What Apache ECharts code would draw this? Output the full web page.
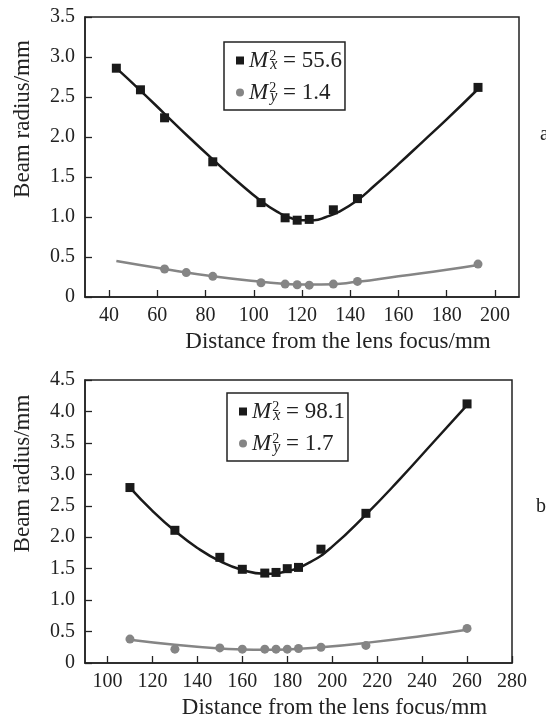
<!DOCTYPE html>
<html>
<head>
<meta charset="utf-8">
<script src="https://cdn.jsdelivr.net/npm/echarts@6/dist/echarts.min.js"></script>
<style>html,body{margin:0;padding:0;background:#fff;}#c{width:546px;height:722px;}</style>
</head>
<body>
<div id="c"></div>
<script>
// ---------- Panel a ----------
const aMxX = [43, 53, 63, 83, 103, 113, 118, 123, 133, 143, 193];
const aMxY = [2.86, 2.59, 2.24, 1.69, 1.18, 0.99, 0.96, 0.97, 1.09, 1.23, 2.62];
const aMyX = [63, 72, 83, 103, 113, 118, 123, 133, 143, 193];
const aMyY = [0.35, 0.305, 0.258, 0.178, 0.161, 0.153, 0.148, 0.161, 0.195, 0.411];
const aFitXx = [43, 53, 63, 73, 83, 93, 103, 110, 115, 120, 125, 130, 135, 143, 150, 160, 170, 180, 193];
const aFitXy = [2.86, 2.58, 2.29, 2.00, 1.72, 1.45, 1.20, 1.06, 0.99, 0.96, 0.96, 1.00, 1.06, 1.21, 1.39, 1.66, 1.94, 2.22, 2.60];
const aFitYx = [43, 63, 83, 103, 113, 120, 128, 143, 160, 180, 193];
const aFitYy = [0.45, 0.35, 0.26, 0.19, 0.165, 0.155, 0.155, 0.19, 0.26, 0.34, 0.40];
const aXTicks = [40, 60, 80, 100, 120, 140, 160, 180, 200];
// ---------- Panel b ----------
const bMxX = [110, 130, 150, 160, 170, 175, 180, 185, 195, 215, 260];
const bMxY = [2.79, 2.11, 1.68, 1.49, 1.43, 1.44, 1.50, 1.52, 1.81, 2.38, 4.12];
const bMyX = [110, 130, 150, 160, 170, 175, 180, 185, 195, 215, 260];
const bMyY = [0.38, 0.22, 0.24, 0.22, 0.22, 0.22, 0.22, 0.23, 0.25, 0.28, 0.55];
const bFitXx = [110, 120, 130, 140, 150, 160, 170, 180, 190, 200, 215, 230, 245, 260];
const bFitXy = [2.79, 2.42, 2.10, 1.83, 1.62, 1.48, 1.42, 1.46, 1.60, 1.85, 2.36, 2.92, 3.51, 4.10];
const bFitYx = [110, 130, 150, 160, 170, 180, 195, 215, 240, 260];
const bFitYy = [0.37, 0.29, 0.23, 0.215, 0.21, 0.215, 0.25, 0.32, 0.43, 0.53];
const bXTicks = [100, 120, 140, 160, 180, 200, 220, 240, 260, 280];
// legend texts
const legA = ['55.6', '1.4'];
const legB = ['98.1', '1.7'];
const panelLetters = ['a', 'b'];

const pair = (xs, ys) => xs.map((x, i) => [x, ys[i]]);
const FONT = '"Liberation Serif", "DejaVu Serif", serif';
const BLACK = '#1a1a1a';
const GRAY = '#858585';

function xAxis(gi, min, max, ticks) {
  return {
    type: 'value', gridIndex: gi, min: min, max: max,
    name: 'Distance from the lens focus/mm', nameLocation: 'middle', nameGap: 33,
    nameTextStyle: { fontFamily: FONT, fontSize: 23, color: '#222', padding: [0, 0, 0, 72] },
    axisLine: { show: true, onZero: false, lineStyle: { color: '#222', width: 1.5 } },
    axisTick: { show: true, inside: true, length: 7, customValues: ticks, lineStyle: { color: '#222', width: 1.3 } },
    axisLabel: { customValues: ticks, fontFamily: FONT, fontSize: 20, color: '#222', margin: 9 },
    splitLine: { show: false }
  };
}
function yAxis(gi, max, padL) {
  return {
    type: 'value', gridIndex: gi, min: 0, max: max, interval: 0.5,
    name: 'Beam radius/mm', nameLocation: 'middle', nameGap: 51, nameRotate: 90,
    nameTextStyle: { fontFamily: FONT, fontSize: 23, color: '#222', padding: [0, 0, 0, padL] },
    axisLine: { show: true, lineStyle: { color: '#222', width: 1.5 } },
    axisTick: { show: true, inside: true, length: 7, lineStyle: { color: '#222', width: 1.3 } },
    axisLabel: { fontFamily: FONT, fontSize: 20, color: '#222', margin: 10,
      formatter: v => (v === 0 ? '0' : v.toFixed(1)), showMaxLabel: true },
    splitLine: { show: false }
  };
}
const rich = {
  M: { fontFamily: FONT, fontSize: 23, fontStyle: 'italic', color: '#222', lineHeight: 25 },
  sup: { fontFamily: FONT, fontSize: 14, color: '#222', verticalAlign: 'top', lineHeight: 14, width: 0, padding: [1, 0, 0, 1] },
  sub: { fontFamily: FONT, fontSize: 16, fontStyle: 'italic', color: '#222', verticalAlign: 'bottom', lineHeight: 14, padding: [0, 0, 0, 1] },
  r: { fontFamily: FONT, fontSize: 23, color: '#222', lineHeight: 25 }
};
function legend(gi, left, top, vals) {
  const names = ['Mx' + gi, 'My' + gi];
  return {
    orient: 'vertical', left: left, top: top, itemWidth: 8, itemHeight: 8, itemGap: 7,
    padding: [6, 3, 5, 12], borderColor: '#222', borderWidth: 1.5, backgroundColor: '#fff',
    selectedMode: false,
    data: [{ name: names[0], icon: 'rect' }, { name: names[1], icon: 'circle' }],
    formatter: n => n.startsWith('Mx') ? '{M|M}{sup|2}{sub|x}{r| = ' + vals[0] + '}' : '{M|M}{sup|2}{sub|y}{r| = ' + vals[1] + '}',
    textStyle: { rich: rich }
  };
}
function pts(name, gi, xs, ys, sym, size, color) {
  return { name: name, type: 'scatter', xAxisIndex: gi, yAxisIndex: gi, data: pair(xs, ys),
    symbol: sym, symbolSize: size, itemStyle: { color: color, opacity: 1 }, z: 5, silent: true };
}
function fit(gi, xs, ys, color, w) {
  return { name: 'fit', type: 'line', xAxisIndex: gi, yAxisIndex: gi, data: pair(xs, ys),
    smooth: 0.5, showSymbol: false, lineStyle: { color: color, width: w }, z: 3, silent: true };
}

const chart = echarts.init(document.getElementById('c'), null, { renderer: 'canvas' });
chart.setOption({
  animation: false,
  backgroundColor: '#fff',
  grid: [
    { left: 85, top: 17, width: 434, height: 280, show: true, borderColor: '#222', borderWidth: 1.5, backgroundColor: 'transparent' },
    { left: 85, top: 380, width: 427, height: 283, show: true, borderColor: '#222', borderWidth: 1.5, backgroundColor: 'transparent' }
  ],
  xAxis: [xAxis(0, 30, 210, aXTicks), xAxis(1, 90, 280, bXTicks)],
  yAxis: [yAxis(0, 3.5, 76), yAxis(1, 4.5, 96)],
  legend: [legend(0, 224, 42, legA), legend(1, 227, 393, legB)],
  series: [
    fit(0, aFitXx, aFitXy, BLACK, 2.5),
    fit(0, aFitYx, aFitYy, GRAY, 2.5),
    pts('Mx0', 0, aMxX, aMxY, 'rect', 9, BLACK),
    pts('My0', 0, aMyX, aMyY, 'circle', 9, GRAY),
    fit(1, bFitXx, bFitXy, BLACK, 2.5),
    fit(1, bFitYx, bFitYy, GRAY, 2.5),
    pts('Mx1', 1, bMxX, bMxY, 'rect', 9, BLACK),
    pts('My1', 1, bMyX, bMyY, 'circle', 9, GRAY)
  ],
  graphic: [
    { type: 'text', left: 540, top: 125, style: { text: panelLetters[0], fontFamily: FONT, fontSize: 20, fill: '#222' } },
    { type: 'text', left: 536, top: 497, style: { text: panelLetters[1], fontFamily: FONT, fontSize: 20, fill: '#222' } }
  ]
});
</script>
</body>
</html>
